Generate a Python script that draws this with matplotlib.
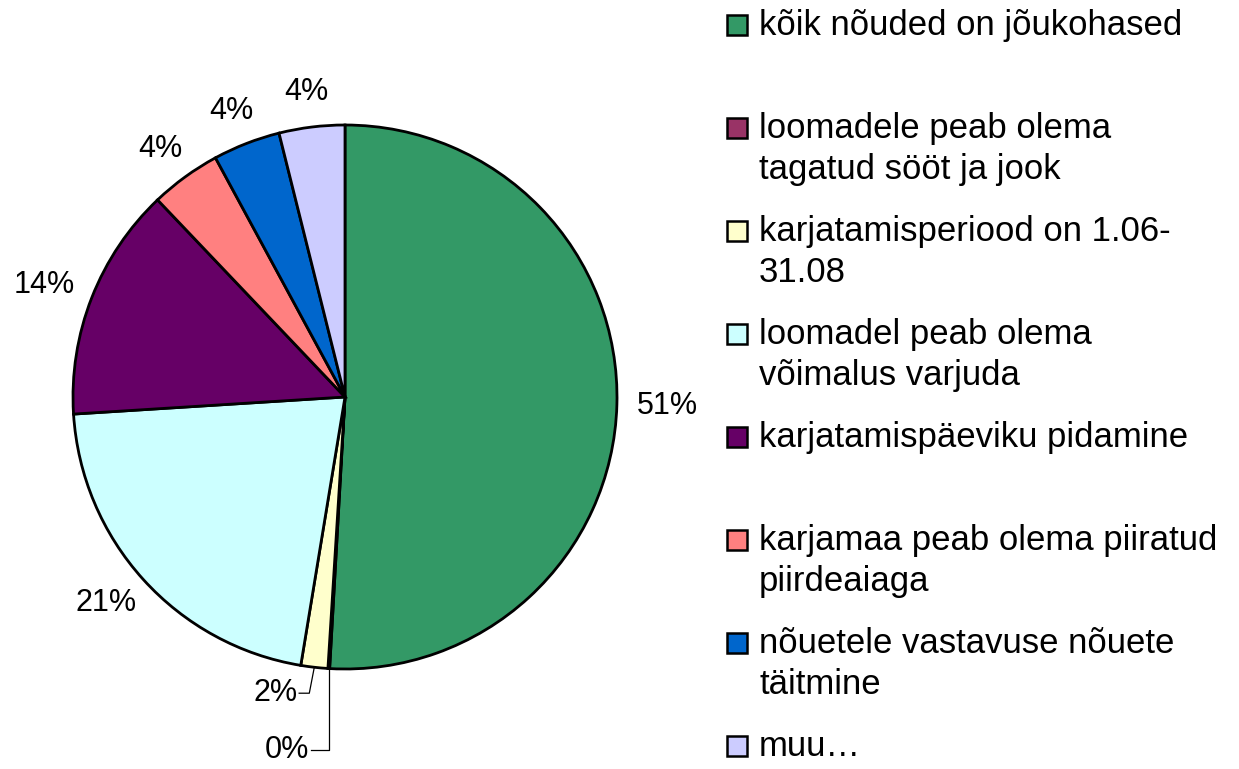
"""
Sektordiagramm: karjatamise nõuete jõukohasus (vastuste jaotus).
"""
import numpy as np
import matplotlib
matplotlib.use('Agg')
import matplotlib.pyplot as plt
from matplotlib.patches import Rectangle

plt.rcParams['font.family'] = ['Liberation Sans', 'DejaVu Sans']

# andmed (%), loetud jooniselt
categories = [
    'kõik nõuded on jõukohased',
    'loomadele peab olema\ntagatud sööt ja jook',
    'karjatamisperiood on 1.06-\n31.08',
    'loomadel peab olema\nvõimalus varjuda',
    'karjatamispäeviku pidamine',
    'karjamaa peab olema piiratud\npiirdeaiaga',
    'nõuetele vastavuse nõuete\ntäitmine',
    'muu…',
]
shares = [50.9, 0.1, 1.6, 21.4, 13.9, 4.2, 4.0, 3.9]
colors = ['#339966', '#993366', '#FFFFCC', '#CCFFFF',
          '#660066', '#FF8080', '#0066CC', '#CCCCFF']

W, H = 1239, 769
CX, CY, R = 345, 397, 272  # piruka keskpunkt ja raadius (px)

fig = plt.figure(figsize=(W / 100, H / 100), dpi=100)

# legend käsitsi, pikslites
ax_leg = fig.add_axes([0, 0, 1, 1])
ax_leg.set_xlim(0, W)
ax_leg.set_ylim(H, 0)
ax_leg.axis('off')
y0, step, line_h = 35, 103, 41
for i, (lab, col) in enumerate(zip(categories, colors)):
    base = y0 + i * step
    ax_leg.add_patch(Rectangle((727, base - 20), 20, 20, facecolor=col,
                               edgecolor='black', linewidth=1.8))
    for j, line in enumerate(lab.split('\n')):
        ax_leg.text(759, base + j * line_h, line, fontsize=25,
                    va='baseline', ha='left', color='black')

# pirukas
ax = fig.add_axes([(CX - R) / W, (H - CY - R) / H, 2 * R / W, 2 * R / H])
wedges, _ = ax.pie(shares, colors=colors, startangle=90, counterclock=False,
                   wedgeprops=dict(edgecolor='black', linewidth=2.0))
ax.set_xlim(-1, 1)
ax.set_ylim(-1, 1)
ax.axis('off')

labels = [f'{v:.0f}%' for v in shares]
fig.canvas.draw()
renderer = fig.canvas.get_renderer()
px = 1.0 / R  # üks piksel andmeühikutes
gap = 292 * px

for i, (w, lab) in enumerate(zip(wedges, labels)):
    ang = np.deg2rad((w.theta1 + w.theta2) / 2)
    dx, dy = np.cos(ang), np.sin(ang)
    if i in (1, 2):
        continue
    t = ax.text(0, 0, lab, fontsize=22, ha='center', va='center')
    bb = t.get_window_extent(renderer)
    hw, hh = bb.width / 2 * px, bb.height / 2 * px
    t.set_position((dx * gap + dx * hw, dy * gap + dy * hh))

# väikesed sektorid: sildid juhtjoontega
small = {1: (-0.213, -1.296), 2: (-0.257, -1.089)}
for i, (lx, ly) in small.items():
    w = wedges[i]
    ang = np.deg2rad((w.theta1 + w.theta2) / 2)
    ex, ey = np.cos(ang), np.sin(ang)
    t = ax.text(lx, ly, labels[i], fontsize=22, ha='center', va='center')
    bb = t.get_window_extent(renderer)
    right = lx + (bb.width / 2 + 2) * px
    bend_x = ex if i == 1 else ex - 5 * px
    ax.plot([right, bend_x, ex], [ly, ly, ey], color='black', linewidth=0.9,
            clip_on=False)

fig.savefig('out.png', dpi=100)
